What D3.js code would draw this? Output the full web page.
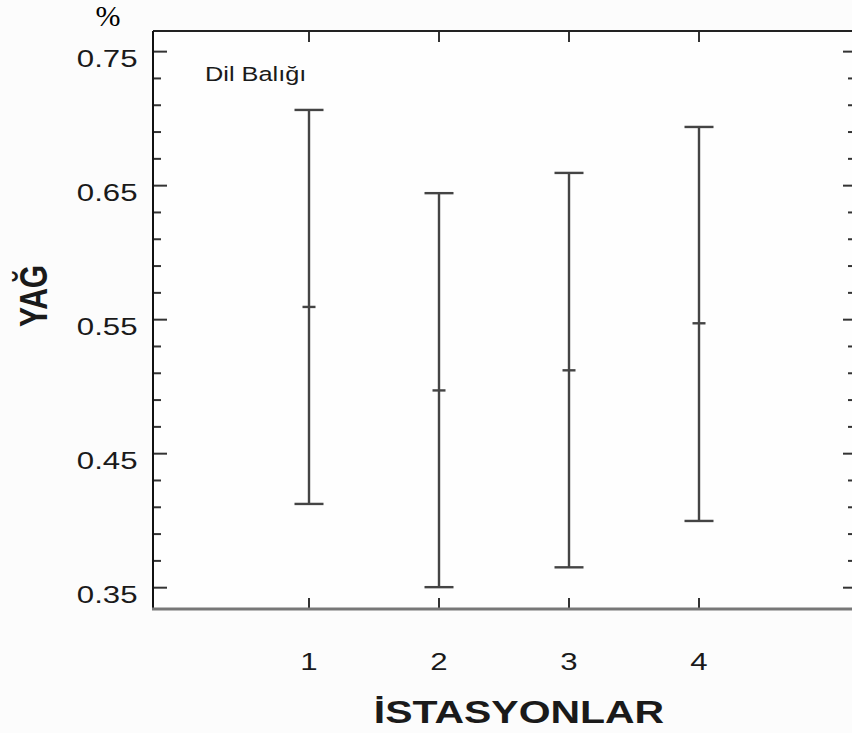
<!DOCTYPE html>
<html><head><meta charset="utf-8">
<script src="https://cdn.jsdelivr.net/npm/d3@7"></script>
<style>html,body{margin:0;padding:0;background:#fcfcfc;}svg{display:block;}</style>
</head><body>
<svg id="c" width="852" height="733"></svg>
<script>
const stations = [1, 2, 3, 4];
const meanValues = [0.5595, 0.4972, 0.5122, 0.5473];
const upperValues = [0.7065, 0.6444, 0.6595, 0.6938];
const lowerValues = [0.4125, 0.3504, 0.3652, 0.3998];
const yMajorTicks = [0.35, 0.45, 0.55, 0.65, 0.75];
const yMinorTicks = d3.range(0.35, 0.7601, 0.02).map(v => +v.toFixed(2));
const yTickLabels = ["0.35", "0.45", "0.55", "0.65", "0.75"];
const xTickLabels = ["1", "2", "3", "4"];
const title = "Dil Balığı";
const xTitle = "İSTASYONLAR";
const yTitle = "YAĞ";
const unit = "%";

const svg = d3.select("#c");
const L = 153, R = 855, T = 31, B = 609;
const x = d3.scaleLinear().domain([-0.2, 5.2]).range([L, R]);
const y = d3.scaleLinear().domain([0.3341, 0.7654]).range([B, T]);
const SX = 1.3;
const font = "'Liberation Sans', Arial, Helvetica, sans-serif";

svg.append("rect").attr("x", L).attr("y", T).attr("width", R - L).attr("height", B - T).attr("fill", "#fefefe");

// left axis ticks (inward)
const gl = svg.append("g").attr("stroke", "#333").attr("stroke-width", 2);
gl.selectAll(".mi").data(yMinorTicks).join("line")
  .attr("x1", L).attr("x2", d => yMajorTicks.some(m => Math.abs(m - d) < 1e-6) ? L + 14 : L + 8)
  .attr("y1", d => y(d)).attr("y2", d => y(d));
// right axis ticks (inward)
gl.selectAll(".mr").data(yMinorTicks).join("line")
  .attr("x1", R).attr("x2", d => yMajorTicks.some(m => Math.abs(m - d) < 1e-6) ? R - 12 : R - 7)
  .attr("y1", d => y(d)).attr("y2", d => y(d));
// x ticks bottom & top
gl.selectAll(".xb").data(stations).join("line")
  .attr("x1", d => x(d)).attr("x2", d => x(d)).attr("y1", B).attr("y2", B - 11);
gl.selectAll(".xt").data(stations).join("line")
  .attr("x1", d => x(d)).attr("x2", d => x(d)).attr("y1", T).attr("y2", T + 11);

// frame
svg.append("line").attr("x1", L).attr("x2", R).attr("y1", T).attr("y2", T).attr("stroke", "#222").attr("stroke-width", 2);
svg.append("line").attr("x1", R).attr("x2", R).attr("y1", T).attr("y2", B).attr("stroke", "#222").attr("stroke-width", 2);
svg.append("line").attr("x1", L).attr("x2", L).attr("y1", T).attr("y2", B).attr("stroke", "#111").attr("stroke-width", 2);
svg.append("line").attr("x1", L - 1).attr("x2", R).attr("y1", B).attr("y2", B).attr("stroke", "#777").attr("stroke-width", 3);

// error bars
const data = stations.map((s, i) => ({s, m: meanValues[i], hi: upperValues[i], lo: lowerValues[i]}));
const eb = svg.append("g").attr("stroke", "#444").attr("stroke-width", 2.4);
eb.selectAll(".v").data(data).join("line")
  .attr("x1", d => x(d.s)).attr("x2", d => x(d.s)).attr("y1", d => y(d.hi)).attr("y2", d => y(d.lo));
eb.selectAll(".ct").data(data).join("line")
  .attr("x1", d => x(d.s) - 14.5).attr("x2", d => x(d.s) + 14.5).attr("y1", d => y(d.hi)).attr("y2", d => y(d.hi));
eb.selectAll(".cb").data(data).join("line")
  .attr("x1", d => x(d.s) - 14.5).attr("x2", d => x(d.s) + 14.5).attr("y1", d => y(d.lo)).attr("y2", d => y(d.lo));
eb.selectAll(".cm").data(data).join("line")
  .attr("x1", d => x(d.s) - 6.5).attr("x2", d => x(d.s) + 6.5).attr("y1", d => y(d.m)).attr("y2", d => y(d.m));

// stretched text helper
function stext(tx, ty, str, size, anchor, weight, rot) {
  const g = svg.append("g").attr("transform",
    rot ? `translate(${tx},${ty}) rotate(-90) scale(1,${SX})` : `translate(${tx},${ty}) scale(${SX},1)`);
  g.append("text").attr("text-anchor", anchor).attr("font-family", font)
    .attr("font-size", size).attr("font-weight", weight || "normal").attr("fill", "#1a1a1a").text(str);
}
yMajorTicks.forEach((v, i) => stext(137.5, y(v) + 15, yTickLabels[i], 24, "end"));
stations.forEach((s, i) => stext(x(s), 670, xTickLabels[i], 24, "middle"));
stext(205, 81, title, 19.5, "start");
stext(519, 723, xTitle, 31.5, "middle", "bold");
stext(47, 296, yTitle, 30, "middle", "bold", true);

svg.append("text").attr("x", 108).attr("y", 26).attr("text-anchor", "middle")
  .attr("font-family", "'Liberation Serif', 'Times New Roman', serif").attr("font-size", 30)
  .attr("fill", "#000").text(unit);
</script>
</body></html>
